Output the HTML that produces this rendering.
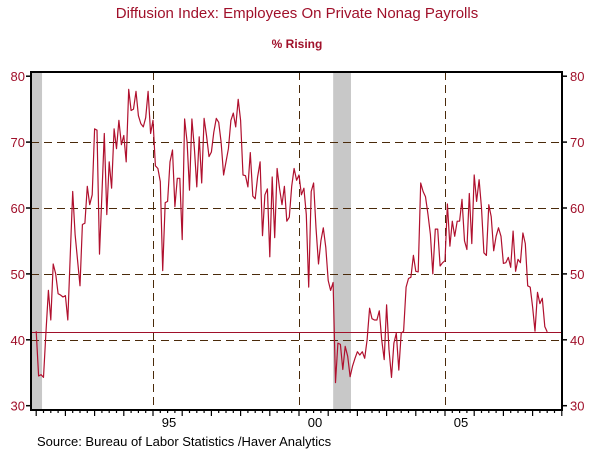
<!DOCTYPE html>
<html><head><meta charset="utf-8"><style>
body{margin:0;background:#fff;width:600px;height:449px;overflow:hidden;font-family:"Liberation Sans",sans-serif}
</style></head><body>
<svg id="chart" width="600" height="449" xmlns="http://www.w3.org/2000/svg">
<text x="297" y="18" text-anchor="middle" font-size="15" fill="#a0102a">Diffusion Index: Employees On Private Nonag Payrolls</text>
<text x="297" y="48" text-anchor="middle" font-size="12" font-weight="bold" fill="#a0102a">% Rising</text>
<text x="37" y="446" font-size="13" fill="#000">Source:  Bureau of Labor Statistics /Haver Analytics</text>
<g id="plot"></g>
</svg>
<script>
const startYear = 1991;
const values = [41.3,34.5,34.7,34.3,41,47.5,43,51.5,50,47,
46.8,46.5,46.7,43,53,62.5,56,52,48.2,57.5,
57.7,63.3,60.5,62,72,71.8,53,62,71.3,59,
67,63,72,69,73.3,69.6,71,67,78,74.8,
75,77.7,74,72.8,72.3,73.7,77.7,71.3,73.3,66.4,
66,64,50.5,60.8,61,67,68.8,60.2,64.5,64.5,
55.2,73.5,70,62.7,73.5,69,63.2,70.8,63.8,73.6,
71,67.8,68.5,71.5,73.6,73,70,65,67,69,
73.3,74.4,72.3,76.5,73.3,65,64.9,63.2,68.4,61.8,
61.4,64.7,67,55.8,62,62.9,52.6,64.7,55.5,66,
63,60.5,63.3,58,58.6,63.3,66,64.2,65,
62,63,59,48,62.5,63.8,57,51.5,55,57,
54,49,47.5,48.7,33.5,39.5,39.3,35.5,39,37.5,
34.4,36,37.2,38.2,37.7,38.2,37.2,40,44.8,43.2,
43,43,44.4,40,37,45.3,38.5,34.3,39.5,41,
35.4,41,41.3,48,49.3,49.5,52.8,50.4,50.3,63.8,
62.5,61.7,59,56,50,56.8,56.8,51.2,51.7,52,
60.6,54.2,58,55.7,58,58,61.3,55,53.7,62.2,
54.6,65,61,64.3,60,53.2,52.8,60.5,58.7,53.5,
55.7,57,55.7,51.6,51.7,52.5,51,56.5,50.4,52.2,
51.7,56.2,54.6,48.2,48,45,41.3,47.2,45.5,46.3,
42,41.2];
const yTicks = [30,40,50,60,70,80];
const yGrid = [40,50,60,70];
const xGridYears = [1995,2000,2005];
const xLabels = ["95","00","05"];
const refValue = 41.1;
const recessionStarts = [1990.83,2001.17];
const recessionEnds = [1991.2,2001.78];

const L=31,R=562,T=72,B=410;
const x = d => 153 + (d-1995)*29.2;
const y = v => 405.7 - (v-30)*6.59;
const NS="http://www.w3.org/2000/svg";
const g=document.getElementById('plot');
function mk(tag,attrs){const e=document.createElementNS(NS,tag);for(const k in attrs)e.setAttribute(k,attrs[k]);g.appendChild(e);return e;}

for(let i=0;i<recessionStarts.length;i++){
  const r=mk('rect',{x:Math.max(L,x(recessionStarts[i])),y:T,width:x(recessionEnds[i])-Math.max(L,x(recessionStarts[i])),height:B-T,fill:'#c8c8c8'});
  
  
}
yGrid.forEach(v=>{
  const yy=Math.round(y(v))+0.5;
  const l=mk('line',{x1:L,x2:R,y1:yy,y2:yy,stroke:'#4a2a0a','stroke-dasharray':'8,5','stroke-width':1});
  
  
});
xGridYears.forEach((yr,i)=>{
  const xx=Math.round(x(yr))+0.5;
  const l=mk('line',{x1:xx,x2:xx,y1:T,y2:B,stroke:'#4a2a0a','stroke-dasharray':'8,5','stroke-width':1});
  
  
  const t=mk('text',{x:x(yr)+16,y:427,'text-anchor':'middle','font-size':13,fill:'#000'});
  t.textContent=xLabels[i];
  
  
});
const ref=mk('line',{x1:L,x2:R,y1:y(refValue),y2:y(refValue),stroke:'#a0102a','stroke-width':1});



const pts=values.map((v,i)=>x(startYear+i/12).toFixed(1)+','+y(v).toFixed(1)).join(' ');
const line=mk('polyline',{points:pts,fill:'none',stroke:'#b0102e','stroke-width':1.2,'stroke-linejoin':'round'});



const frame=mk('rect',{x:L,y:T,width:R-L,height:B-T,fill:'none',stroke:'#000','stroke-width':2});



yTicks.forEach(v=>{
  const a=mk('line',{x1:L-5,x2:L,y1:y(v),y2:y(v),stroke:'#000','stroke-width':1.5});
  
  
  const b=mk('line',{x1:R,x2:R+5,y1:y(v),y2:y(v),stroke:'#000','stroke-width':1.5});
  
  
  const t1=mk('text',{x:L-6,y:y(v)+5,'text-anchor':'end','font-size':13,fill:'#a0102a'});
  t1.textContent=v;
  
  
  const t2=mk('text',{x:R+8,y:y(v)+5,'font-size':13,fill:'#a0102a'});
  t2.textContent=v;
  
  
});
for(let q=Math.ceil(1990.83*4);q<=2009*4;q++){
  const d=q/4; const major=(q%4===0);
  const xx=x(d); if(xx<L||xx>R+1) continue;
  const t=mk('line',{x1:xx,x2:xx,y1:B,y2:B+(major?6:3),stroke:'#000','stroke-width':1.2});
  
  
}
</script>
</body></html>
